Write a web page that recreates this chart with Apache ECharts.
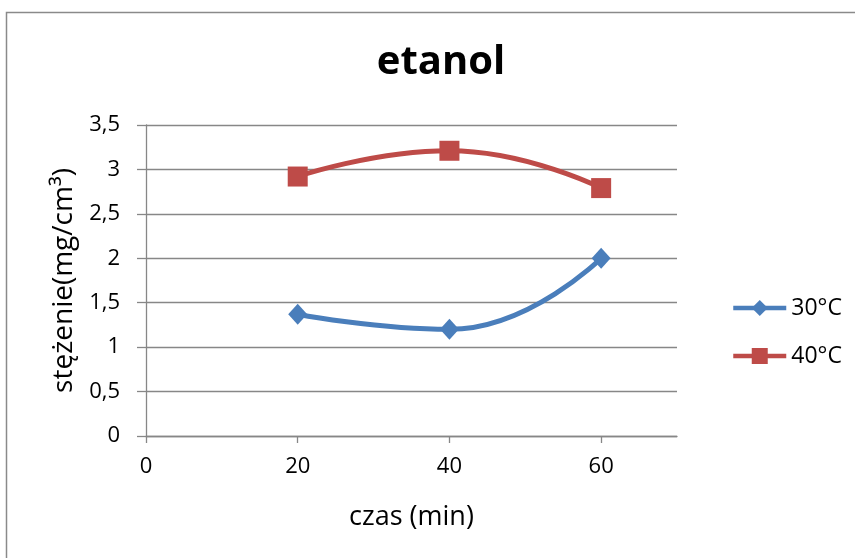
<!DOCTYPE html>
<html>
<head>
<meta charset="utf-8">
<script src="https://cdn.jsdelivr.net/npm/echarts@6/dist/echarts.min.js"></script>
<style>
html,body{margin:0;padding:0;background:#fff;}
#c{width:855px;height:558px;}
</style>
</head>
<body>
<div id="c"></div>
<script>
var titleText = 'etanol';
var xName = 'czas (min)';
var yName = 'stężenie(mg/cm³)';
var xTicks = [0, 20, 40, 60];
var seriesNames = ['30°C', '40°C'];
var times = [20, 40, 60];
var values30 = [1.37, 1.20, 2.00];
var values40 = [2.92, 3.21, 2.79];

var FONT = '"Open Sans", sans-serif';
var GRAY = '#878787';

function pairs(xs, ys) { return xs.map(function (x, i) { return [x, ys[i]]; }); }

var chart = echarts.init(document.getElementById('c'));
chart.setOption({
  animation: false,
  backgroundColor: '#fff',
  graphic: [{
    type: 'rect',
    shape: { x: 6.5, y: 12.5, width: 1200, height: 1200 },
    style: { fill: 'none', stroke: '#8a8a8a', lineWidth: 1.5 },
    silent: true
  }],
  title: {
    text: titleText,
    left: 436,
    textAlign: 'center',
    top: 38,
    textStyle: { fontFamily: FONT, fontSize: 40, fontWeight: 'bold', color: '#000' }
  },
  legend: {
    orient: 'vertical',
    left: 731,
    top: 296,
    padding: 0,
    itemWidth: 53,
    itemHeight: 20,
    itemGap: 24,
    lineStyle: { width: 4.5 },
    textStyle: { fontFamily: FONT, fontSize: 23, color: '#000', lineHeight: 24 },
    data: seriesNames
  },
  grid: { left: 146, right: 178, top: 125, bottom: 122, containLabel: false },
  xAxis: {
    type: 'value',
    min: 0, max: 70, interval: 20,
    name: xName,
    nameLocation: 'middle',
    nameGap: 68,
    nameTextStyle: { fontFamily: FONT, fontSize: 27, color: '#000' },
    axisLine: { show: true, lineStyle: { color: GRAY, width: 1.3 } },
    axisTick: { show: true, length: 7, lineStyle: { color: GRAY, width: 1.3 }, customValues: xTicks },
    axisLabel: { fontFamily: FONT, fontSize: 22, color: '#000', margin: 20, customValues: xTicks },
    splitLine: { show: false }
  },
  yAxis: {
    type: 'value',
    min: 0, max: 3.5, interval: 0.5,
    name: yName,
    nameLocation: 'middle',
    nameGap: 68,
    nameTextStyle: { fontFamily: FONT, fontSize: 28, color: '#000' },
    axisLine: { show: true, lineStyle: { color: GRAY, width: 1.3 } },
    axisTick: { show: true, inside: false, length: 9, lineStyle: { color: GRAY, width: 1.3 } },
    axisLabel: {
      fontFamily: FONT, fontSize: 22, color: '#000', margin: 26,
      formatter: function (v) { return String(v).replace('.', ','); }
    },
    splitLine: { show: true, lineStyle: { color: GRAY, width: 1.3 } }
  },
  series: [{
    name: seriesNames[0],
    type: 'line',
    smooth: 0.5,
    data: pairs(times, values30),
    symbol: 'diamond',
    symbolSize: [19, 21],
    color: '#4A7EBB',
    lineStyle: { color: '#4A7EBB', width: 5 },
    itemStyle: { color: '#4A7EBB' }
  }, {
    name: seriesNames[1],
    type: 'line',
    smooth: 0.5,
    data: pairs(times, values40),
    symbol: 'rect',
    symbolSize: 20,
    color: '#BE4B48',
    lineStyle: { color: '#BE4B48', width: 5 },
    itemStyle: { color: '#BE4B48' }
  }]
});
</script>
</body>
</html>
